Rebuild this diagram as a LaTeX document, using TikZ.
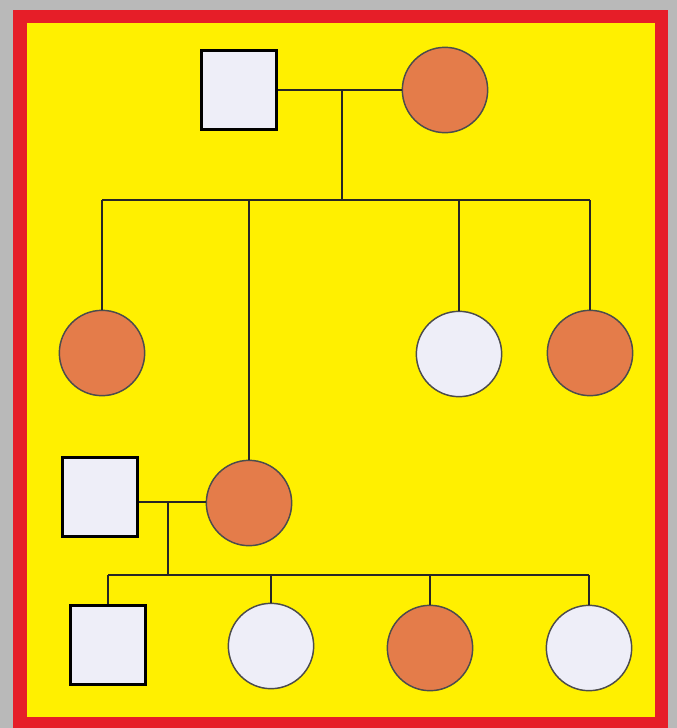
\documentclass[tikz,border=0pt]{standalone}
\begin{document}
\begin{tikzpicture}[x=0.75pt,y=-0.75pt,
  male/.style={draw=black,line width=1.8pt,fill=paleW,minimum width=56pt,minimum height=59pt,inner sep=0pt},
  femA/.style={circle,draw=black!70,line width=1.1pt,fill=orangeF,minimum size=64pt,inner sep=0pt},
  femU/.style={circle,draw=black!70,line width=1.1pt,fill=paleW,minimum size=64pt,inner sep=0pt},
  link/.style={line width=1.4pt,draw=black!85}]
\definecolor{bgGray}{RGB}{185,185,185}
\definecolor{frameRed}{RGB}{230,30,40}
\definecolor{bgYellow}{RGB}{255,240,0}
\definecolor{orangeF}{RGB}{228,124,74}
\definecolor{paleW}{RGB}{238,238,248}
\useasboundingbox (0,0) rectangle (677,728);
\fill[bgGray] (0,0) rectangle (677,728);
\fill[frameRed] (13,10) rectangle (668,728);
\fill[bgYellow] (27,23) rectangle (655,717);
% generation I
\node[male] (f1) at (239,90) {};
\node[femA] (m1) at (445,90) {};
% generation II
\node[femA] (c1) at (102,353) {};
\node[femA] (c2) at (249,503) {};
\node[femU] (c3) at (459,354) {};
\node[femA] (c4) at (590,353) {};
\node[male] (f2) at (100,497) {};
% generation III
\node[male] (g1) at (108,645) {};
\node[femU] (g2) at (271,646) {};
\node[femA] (g3) at (430,648) {};
\node[femU] (g4) at (589,648) {};
% connectors
\coordinate (mm1) at (342,90);
\coordinate (s1) at (342,200);
\draw[link] (f1.east) -- (m1.west);
\draw[link] (mm1) -- (s1);
\draw[link] (c1.north |- s1) -- (c4.north |- s1);
\foreach \c in {c1,c2,c3,c4} \draw[link] (\c.north |- s1) -- (\c.north);
\coordinate (mm2) at (168,502);
\coordinate (s2) at (168,575);
\draw[link] (f2.east |- mm2) -- (c2.west |- mm2);
\draw[link] (mm2) -- (s2);
\draw[link] (g1.north |- s2) -- (g4.north |- s2);
\foreach \c in {g1,g2,g3,g4} \draw[link] (\c.north |- s2) -- (\c.north);
\end{tikzpicture}
\end{document}
